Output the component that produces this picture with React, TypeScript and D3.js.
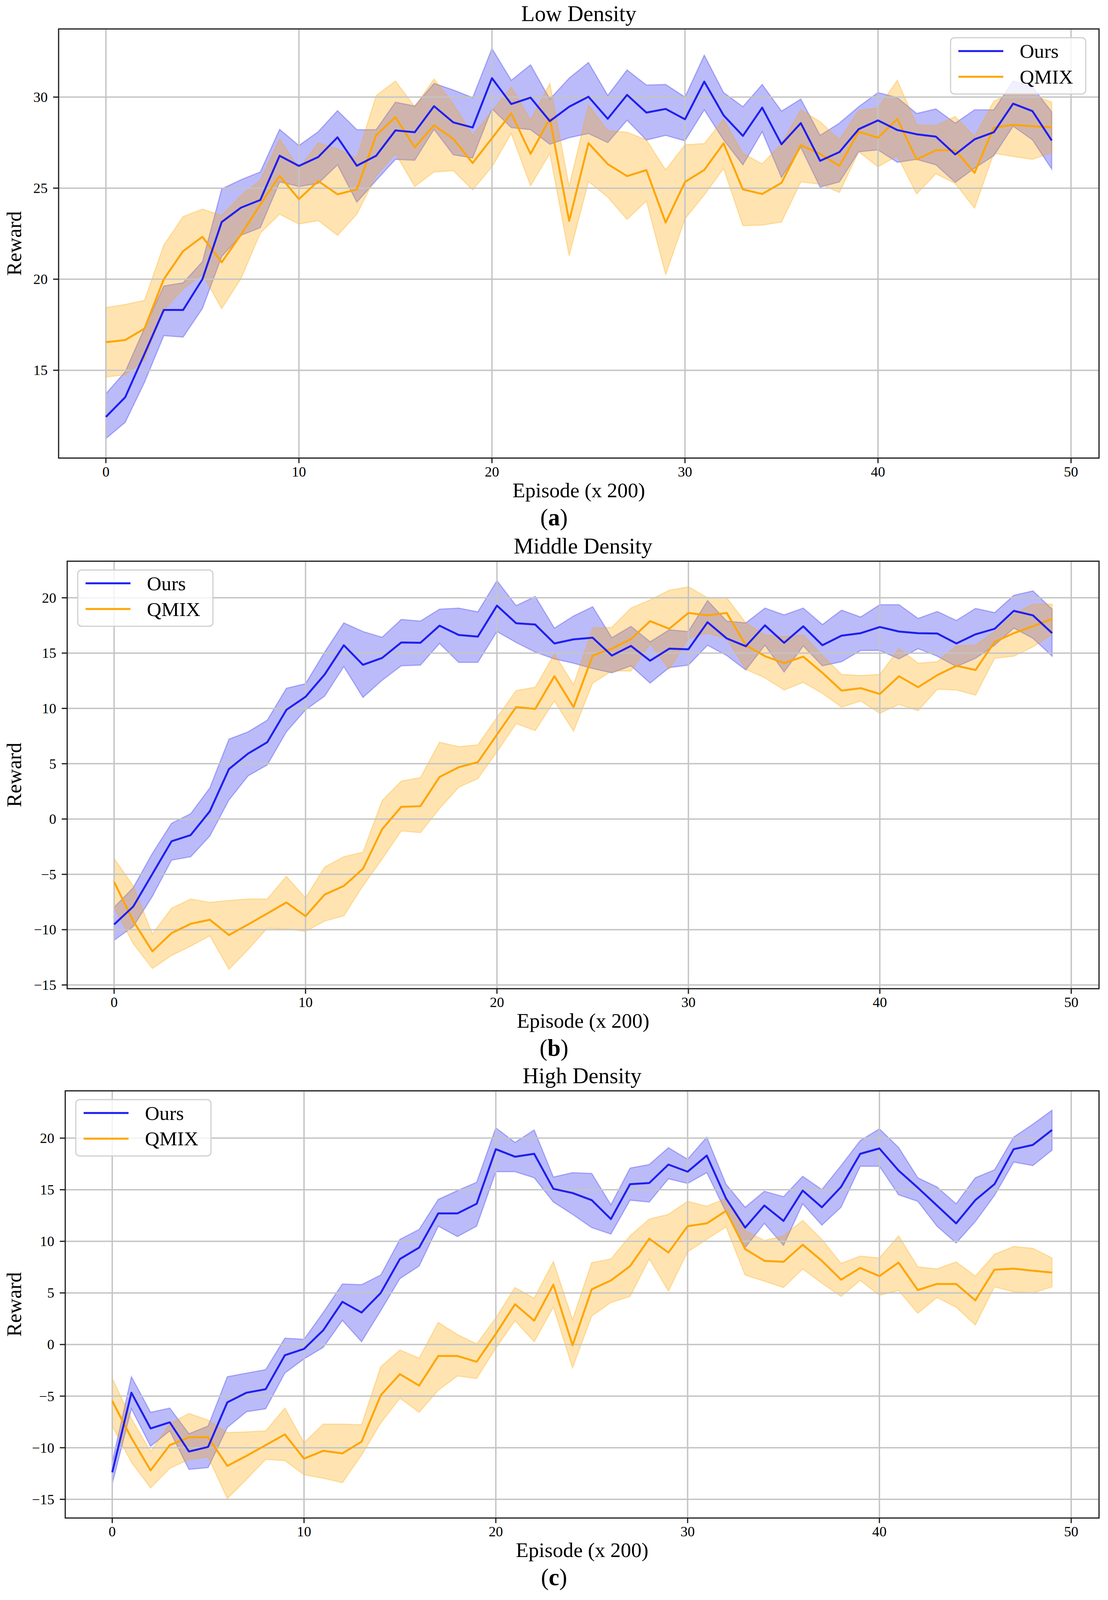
import React from 'react';
import * as d3 from 'd3';

// Episode index (x 200)
const episodes = d3.range(50);

// ---- Low density ----
const lowOursMean = [12.44, 13.52, 15.9, 18.31, 18.31, 20.0, 23.14, 23.93, 24.35, 26.78, 26.22, 26.71, 27.79, 26.23, 26.78, 28.17, 28.07, 29.5, 28.61, 28.33, 31.04, 29.62, 29.97, 28.68, 29.47, 30.02, 28.81, 30.12, 29.15, 29.35, 28.78, 30.85, 29.0, 27.87, 29.42, 27.41, 28.57, 26.5, 26.98, 28.24, 28.72, 28.19, 27.96, 27.83, 26.85, 27.68, 28.07, 29.64, 29.23, 27.62];
const lowOursUpper = [13.71, 14.92, 17.32, 19.63, 19.8, 20.96, 24.96, 25.46, 25.89, 28.23, 27.34, 28.1, 29.26, 28.21, 28.21, 29.72, 29.51, 30.75, 30.39, 29.97, 32.67, 30.92, 31.77, 29.89, 31.04, 31.9, 30.09, 31.49, 30.66, 30.69, 30.0, 32.3, 30.25, 29.47, 30.69, 29.23, 29.89, 27.9, 28.57, 29.47, 30.25, 29.97, 29.1, 29.35, 28.57, 29.3, 29.3, 30.88, 30.55, 29.19];
const lowOursLower = [11.25, 12.14, 14.34, 16.9, 16.82, 18.39, 21.25, 22.41, 22.83, 25.34, 25.09, 25.26, 26.28, 24.23, 25.42, 26.58, 26.53, 28.23, 26.83, 26.66, 29.36, 28.32, 28.21, 27.41, 27.77, 28.0, 27.5, 28.73, 27.64, 27.9, 27.6, 29.3, 27.65, 26.28, 28.1, 25.58, 27.24, 25.06, 25.34, 27.0, 27.1, 26.42, 26.58, 26.28, 25.32, 26.09, 26.78, 28.4, 27.65, 26.05];
const lowQmixMean = [16.54, 16.66, 17.29, 20.0, 21.54, 22.33, 20.93, 22.45, 24.1, 25.67, 24.4, 25.39, 24.66, 24.93, 27.9, 28.9, 27.24, 28.45, 27.7, 26.38, 27.74, 29.11, 26.88, 28.82, 23.2, 27.47, 26.32, 25.66, 25.99, 23.11, 25.34, 26.0, 27.46, 24.93, 24.68, 25.29, 27.36, 26.88, 26.22, 28.1, 27.77, 28.8, 26.58, 27.08, 27.08, 25.84, 28.32, 28.48, 28.4, 28.35];
const lowQmixUpper = [18.44, 18.61, 18.84, 21.87, 23.44, 23.85, 23.5, 24.6, 25.42, 27.7, 26.08, 27.48, 27.15, 26.66, 30.08, 30.88, 29.47, 30.99, 29.63, 27.9, 29.23, 30.55, 28.73, 30.75, 25.09, 29.55, 28.15, 28.07, 27.65, 26.0, 27.38, 27.45, 28.77, 26.91, 26.33, 27.45, 29.3, 28.65, 27.65, 29.26, 29.4, 30.92, 28.48, 28.43, 28.93, 27.83, 29.77, 30.3, 30.13, 29.72];
const lowQmixLower = [14.63, 14.75, 15.57, 18.31, 19.47, 20.26, 18.39, 20.04, 22.53, 23.57, 23.03, 23.22, 22.41, 23.57, 25.67, 26.91, 25.09, 25.89, 25.96, 24.9, 26.17, 28.0, 25.13, 26.91, 21.29, 25.36, 24.51, 23.28, 24.3, 20.26, 23.31, 24.63, 26.08, 22.94, 22.97, 23.14, 25.34, 25.22, 24.76, 27.0, 26.17, 26.78, 24.68, 25.79, 25.26, 23.9, 26.91, 26.74, 26.58, 26.95];

// ---- Middle density ----
const midOursMean = [-9.53, -7.91, -4.96, -2.01, -1.45, 0.7, 4.52, 5.92, 6.94, 9.87, 11.05, 13.07, 15.71, 13.94, 14.56, 15.96, 15.93, 17.48, 16.64, 16.49, 19.29, 17.7, 17.58, 15.87, 16.24, 16.39, 14.78, 15.65, 14.31, 15.4, 15.34, 17.79, 16.33, 15.62, 17.51, 15.93, 17.42, 15.71, 16.58, 16.8, 17.36, 16.95, 16.8, 16.77, 15.87, 16.7, 17.2, 18.82, 18.41, 16.8];
const midOursUpper = [-7.98, -6.2, -3.1, -0.39, 0.48, 2.81, 7.22, 7.88, 8.93, 11.82, 12.23, 15.09, 17.73, 16.95, 16.43, 18.04, 17.89, 18.97, 19.07, 18.73, 21.55, 19.29, 20.12, 17.26, 18.35, 19.19, 16.39, 17.42, 16.02, 17.11, 16.95, 19.75, 17.89, 17.73, 19.07, 18.45, 19.07, 17.58, 18.88, 18.26, 19.38, 19.38, 18.13, 18.76, 17.95, 19.04, 18.66, 20.22, 20.62, 18.97];
const midOursLower = [-10.96, -9.72, -6.98, -3.72, -3.41, -1.54, 1.72, 3.9, 4.89, 7.88, 9.87, 11.11, 13.78, 10.99, 12.54, 13.85, 13.91, 15.87, 14.16, 14.16, 16.95, 15.96, 15.09, 14.47, 14.09, 13.6, 13.22, 13.85, 12.29, 13.69, 13.91, 15.71, 14.78, 13.47, 15.71, 13.29, 15.65, 13.85, 14.22, 15.24, 15.24, 14.47, 15.4, 14.72, 13.78, 14.53, 15.71, 17.26, 16.33, 14.72];
const midQmixMean = [-5.68, -9.22, -11.96, -10.31, -9.47, -9.1, -10.49, -9.53, -8.54, -7.54, -8.78, -6.83, -6.05, -4.5, -0.92, 1.1, 1.16, 3.8, 4.68, 5.14, 7.63, 10.12, 9.96, 12.91, 10.12, 14.78, 15.4, 16.27, 17.89, 17.2, 18.63, 18.41, 18.63, 15.71, 14.72, 14.09, 14.68, 13.22, 11.61, 11.83, 11.3, 12.91, 11.92, 13.01, 13.85, 13.47, 16.02, 16.8, 17.42, 18.1];
const midQmixUpper = [-3.56, -6.05, -10.4, -8.07, -7.23, -7.54, -7.36, -7.23, -7.23, -5.18, -7.14, -4.34, -3.41, -3.0, 1.66, 3.43, 3.74, 6.94, 6.54, 6.7, 9.18, 11.61, 11.92, 14.93, 12.14, 17.26, 17.33, 19.07, 19.81, 20.68, 20.99, 20.0, 20.0, 17.73, 16.64, 16.49, 16.64, 14.78, 13.07, 12.97, 13.07, 15.4, 14.09, 14.22, 15.65, 15.71, 16.95, 18.51, 19.44, 19.44];
const midQmixLower = [-7.98, -11.27, -13.51, -12.33, -11.49, -10.56, -13.58, -11.8, -9.87, -9.94, -10.15, -9.22, -8.75, -6.05, -3.62, -1.08, -1.23, 0.94, 2.87, 3.65, 6.07, 8.62, 8.0, 10.67, 7.94, 12.29, 13.38, 13.38, 15.87, 13.53, 16.33, 16.8, 16.33, 13.53, 12.76, 11.67, 12.35, 11.36, 10.12, 10.67, 9.56, 10.36, 9.8, 11.73, 11.67, 11.2, 14.53, 14.72, 15.56, 16.7];

// ---- High density ----
const highOursMean = [-12.38, -4.67, -8.13, -7.54, -10.37, -9.92, -5.6, -4.67, -4.33, -1.04, -0.42, 1.38, 4.14, 3.1, 5.0, 8.29, 9.39, 12.71, 12.71, 13.64, 18.93, 18.2, 18.48, 15.09, 14.68, 13.99, 12.16, 15.54, 15.65, 17.44, 16.75, 18.31, 14.16, 11.33, 13.47, 11.98, 14.92, 13.3, 15.27, 18.48, 19.0, 16.86, 15.2, 13.47, 11.74, 13.99, 15.54, 18.93, 19.34, 20.79];
const highOursUpper = [-11.41, -3.12, -6.57, -6.16, -8.65, -7.89, -3.12, -2.77, -2.43, 0.61, 0.51, 3.1, 5.87, 5.8, 6.73, 10.19, 11.15, 14.06, 14.92, 15.72, 21.0, 19.59, 20.79, 16.23, 16.65, 16.58, 13.54, 17.1, 17.44, 19.07, 17.96, 20.1, 15.54, 13.3, 14.85, 14.33, 16.3, 15.02, 17.34, 19.76, 20.9, 19.1, 16.16, 15.27, 13.64, 16.16, 16.92, 20.1, 21.35, 22.7];
const highOursLower = [-13.48, -6.23, -9.86, -8.37, -12.1, -11.93, -8.03, -6.51, -6.23, -2.77, -1.39, -0.28, 2.34, 0.27, 3.28, 6.39, 7.6, 11.47, 10.46, 11.47, 16.75, 16.75, 16.16, 13.81, 12.61, 11.33, 10.7, 13.99, 13.81, 16.06, 15.61, 16.65, 12.85, 9.39, 11.74, 9.6, 13.64, 11.57, 13.3, 17.27, 17.27, 14.51, 13.88, 11.47, 9.84, 11.91, 14.44, 17.68, 17.34, 18.83];
const highQmixMean = [-5.47, -9.06, -12.2, -9.75, -8.99, -8.99, -11.76, -10.79, -9.75, -8.71, -11.06, -10.3, -10.55, -9.41, -4.91, -2.87, -3.98, -1.11, -1.11, -1.67, 1.03, 3.9, 2.31, 5.8, -0.07, 5.35, 6.21, 7.6, 10.26, 8.91, 11.47, 11.74, 12.95, 9.25, 8.11, 8.01, 9.67, 8.11, 6.28, 7.42, 6.63, 7.94, 5.28, 5.87, 5.87, 4.28, 7.25, 7.35, 7.15, 6.97];
const highQmixUpper = [-3.29, -7.19, -10.37, -7.68, -6.68, -7.33, -8.54, -8.47, -8.37, -6.16, -9.51, -7.71, -7.71, -7.78, -2.15, -0.53, -1.32, 2.14, 0.96, 0.06, 2.58, 5.52, 4.49, 8.04, 2.41, 7.94, 8.29, 10.53, 12.16, 12.61, 13.88, 13.4, 14.16, 11.05, 10.08, 10.53, 12.02, 10.19, 7.87, 8.56, 8.39, 10.53, 7.53, 7.32, 8.01, 6.63, 8.74, 9.5, 9.32, 8.39];
const highQmixLower = [-7.89, -11.41, -13.9, -12.0, -11.13, -10.89, -14.93, -13.07, -11.13, -11.24, -12.62, -12.96, -13.38, -10.72, -7.61, -5.2, -6.57, -4.43, -3.05, -3.29, -0.35, 2.31, 0.27, 3.62, -2.25, 2.76, 4.07, 4.66, 8.29, 5.18, 8.98, 10.19, 11.4, 6.73, 6.14, 5.52, 7.32, 5.94, 4.66, 6.21, 4.76, 5.24, 3.03, 4.55, 3.62, 1.89, 5.59, 5.11, 5.0, 5.59];

const xTicks = [0, 10, 20, 30, 40, 50];
const lowYTicks = [15, 20, 25, 30];
const densityYTicks = [-15, -10, -5, 0, 5, 10, 15, 20];
const seriesNames = ['Ours', 'QMIX'];

const W = 2836;
const REF_H = 4918;
const FONT = '"Liberation Serif", "Times New Roman", serif';
const BLUE = '#1f1ff0';
const ORANGE = '#ffa500';

interface Series { mean: number[]; upper: number[]; lower: number[]; color: string; }
interface PanelDef {
  title: string; tag: string; yTicks: number[]; series: Series[];
  left: number; right: number; top: number; bottom: number; legendRight: boolean;
}

// frame positions are in reference pixels; y is scaled to the window height
const panels: PanelDef[] = [
  {
    title: 'Low Density', tag: 'a', yTicks: lowYTicks,
    series: [
      { mean: lowOursMean, upper: lowOursUpper, lower: lowOursLower, color: BLUE },
      { mean: lowQmixMean, upper: lowQmixUpper, lower: lowQmixLower, color: ORANGE },
    ],
    left: 150, right: 2813, top: 89, bottom: 1408, legendRight: true,
  },
  {
    title: 'Middle Density', tag: 'b', yTicks: densityYTicks,
    series: [
      { mean: midOursMean, upper: midOursUpper, lower: midOursLower, color: BLUE },
      { mean: midQmixMean, upper: midQmixUpper, lower: midQmixLower, color: ORANGE },
    ],
    left: 172, right: 2813, top: 1725, bottom: 3039, legendRight: false,
  },
  {
    title: 'High Density', tag: 'c', yTicks: densityYTicks,
    series: [
      { mean: highOursMean, upper: highOursUpper, lower: highOursLower, color: BLUE },
      { mean: highQmixMean, upper: highQmixUpper, lower: highQmixLower, color: ORANGE },
    ],
    left: 167, right: 2813, top: 3353, bottom: 4666, legendRight: false,
  },
];

const fmt = d3.format('d');

const Panel: React.FC<{ p: PanelDef; sy: number; fs: number }> = ({ p, sy, fs }) => {
  const top = p.top * sy;
  const bottom = p.bottom * sy;
  const x = d3.scaleLinear().domain([-2.45, 51.45]).range([p.left, p.right]);
  const all = p.series.flatMap(s => [...s.upper, ...s.lower]);
  const lo = d3.min(all) as number;
  const hi = d3.max(all) as number;
  const pad = (hi - lo) * 0.05;
  const y = d3.scaleLinear().domain([lo - pad, hi + pad]).range([bottom, top]);

  const area = (s: Series) =>
    d3.area<number>()
      .x(i => x(episodes[i]))
      .y0(i => y(s.lower[i]))
      .y1(i => y(s.upper[i]))(episodes) || '';
  const line = (s: Series) =>
    d3.line<number>()
      .x(i => x(episodes[i]))
      .y(i => y(s.mean[i]))(episodes) || '';

  const cx = (p.left + p.right) / 2;
  const lgX = p.legendRight ? p.right - 380 : p.left + 27;
  const lgY = top + 27 * sy;
  const tickFs = 40 * fs;
  const labelFs = 58 * fs;

  return (
    <g>
      <defs>
        <clipPath id={`clip-${p.tag}`}>
          <rect x={p.left} y={top} width={p.right - p.left} height={bottom - top} />
        </clipPath>
      </defs>
      <g clipPath={`url(#clip-${p.tag})`}>
        {p.series.map((s, k) => (
          <path key={k} d={area(s)} fill={s.color} fillOpacity={0.3}
            stroke={s.color} strokeOpacity={0.3} strokeWidth={3} />
        ))}
        {xTicks.map(t => (
          <line key={`gx${t}`} x1={x(t)} x2={x(t)} y1={top} y2={bottom} stroke="#c4c4c4" strokeWidth={3.5} />
        ))}
        {p.yTicks.map(t => (
          <line key={`gy${t}`} x1={p.left} x2={p.right} y1={y(t)} y2={y(t)} stroke="#c4c4c4" strokeWidth={3.5} />
        ))}
        {[1, 0].map(k => (
          <path key={`l${k}`} d={line(p.series[k])} fill="none" stroke={p.series[k].color}
            strokeWidth={5} strokeLinejoin="round" />
        ))}
      </g>
      <rect x={p.left} y={top} width={p.right - p.left} height={bottom - top}
        fill="none" stroke="#1a1a1a" strokeWidth={3} />
      {xTicks.map(t => (
        <g key={`xt${t}`}>
          <line x1={x(t)} x2={x(t)} y1={bottom} y2={bottom + 13} stroke="#1a1a1a" strokeWidth={3} />
          <text x={x(t)} y={bottom + 47} textAnchor="middle" fontSize={tickFs} fontFamily={FONT}>{fmt(t)}</text>
        </g>
      ))}
      {p.yTicks.map(t => (
        <g key={`yt${t}`}>
          <line x1={p.left - 14} x2={p.left} y1={y(t)} y2={y(t)} stroke="#1a1a1a" strokeWidth={3} />
          <text x={p.left - 28} y={y(t)} dy="0.34em" textAnchor="end" fontSize={tickFs} fontFamily={FONT}>{fmt(t)}</text>
        </g>
      ))}
      <text x={cx} y={top - 20} textAnchor="middle" fontSize={62 * fs} fontFamily={FONT}>{p.title}</text>
      <text transform={`translate(54,${(top + bottom) / 2}) rotate(-90)`} textAnchor="middle"
        fontSize={labelFs} fontFamily={FONT}>Reward</text>
      <text x={cx} y={bottom + 100} textAnchor="middle" fontSize={labelFs} fontFamily={FONT}>Episode (x 200)</text>
      <text x={W / 2} y={bottom + 172} textAnchor="middle" fontSize={66 * fs} fontFamily={FONT}>
        (<tspan fontWeight="bold">{p.tag}</tspan>)
      </text>
      <g transform={`translate(${lgX},${lgY})`}>
        <rect width={346} height={173 * sy} rx={10} fill="#fff" fillOpacity={0.8} stroke="#d0d0d0" strokeWidth={3} />
        {seriesNames.map((name, k) => (
          <g key={name} transform={`translate(0,${(41 + k * 79) * sy})`}>
            <line x1={20} x2={135} stroke={p.series[k].color} strokeWidth={5} />
            <text x={177} dy="0.34em" fontSize={56 * fs} fontFamily={FONT}>{name}</text>
          </g>
        ))}
      </g>
    </g>
  );
};

export default function App() {
  // the figure is laid out for 4918 px of height; fit it to the window if that is shorter
  const winH = typeof window !== 'undefined' && window.innerHeight ? window.innerHeight : REF_H;
  const H = Math.min(REF_H, winH);
  const sy = H / REF_H;
  const fs = (1 + sy) / 2;
  return (
    <svg width={W} height={H} viewBox={`0 0 ${W} ${H}`}
      style={{ position: 'absolute', left: 0, top: 0, background: '#fff' }}>
      <rect width={W} height={H} fill="#fff" />
      {panels.map(p => <Panel key={p.tag} p={p} sy={sy} fs={fs} />)}
    </svg>
  );
}
